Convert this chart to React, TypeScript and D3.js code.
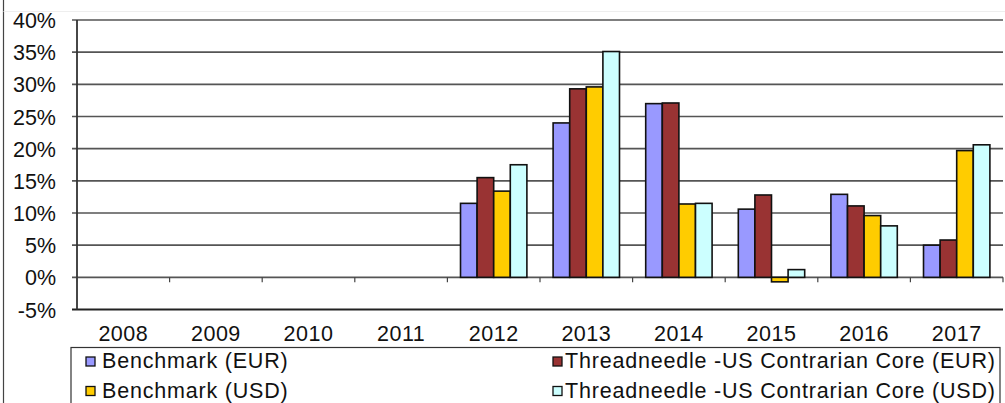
import React, { useEffect } from "react";
import * as d3 from "d3";

const years = ["2008", "2009", "2010", "2011", "2012", "2013", "2014", "2015", "2016", "2017"];
const seriesNames = [
  "Benchmark (EUR)",
  "Threadneedle -US Contrarian Core (EUR)",
  "Benchmark (USD)",
  "Threadneedle -US Contrarian Core (USD)",
];
const benchmarkEUR = [null, null, null, null, 11.5, 24.0, 27.0, 10.6, 12.9, 5.0];
const fundEUR = [null, null, null, null, 15.5, 29.3, 27.1, 12.8, 11.1, 5.8];
const benchmarkUSD = [null, null, null, null, 13.4, 29.6, 11.4, -0.7, 9.6, 19.7];
const fundUSD = [null, null, null, null, 17.5, 35.1, 11.5, 1.2, 8.0, 20.6];
const seriesValues = [benchmarkEUR, fundEUR, benchmarkUSD, fundUSD];
const colors = ["#9999FF", "#993333", "#FFCC00", "#CCFFFF"];
const yTicks = [-5, 0, 5, 10, 15, 20, 25, 30, 35, 40];

const W = 1005;
const H = 403;
const FONT = "'Liberation Sans', Arial, sans-serif";

export default function App() {
  useEffect(() => {
    document.body.style.margin = "0";
  }, []);

  const left = 77;
  const right = 1003;
  const y = d3.scaleLinear().domain([-5, 40]).range([309.5, 20]);
  const x = d3.scaleBand<string>().domain(years).range([left, right]).padding(0);
  const bw = x.bandwidth();
  const inner = d3
    .scaleBand<number>()
    .domain([0, 1, 2, 3])
    .range([0, bw])
    .paddingInner(0)
    .paddingOuter(0.79);

  const y0 = y(0);

  return (
    <svg width={W} height={H} style={{ display: "block", background: "#fff" }} fontFamily={FONT}>
      {/* outer frame */}
      <line x1={3.5} x2={3.5} y1={0} y2={H} stroke="#444" strokeWidth={1.2} />
      <line x1={3.5} x2={W} y1={11.5} y2={11.5} stroke="#eee" strokeWidth={1} />

      {/* gridlines */}
      {yTicks.map((t) => (
        <line
          key={"g" + t}
          x1={left - 5}
          x2={right}
          y1={y(t)}
          y2={y(t)}
          stroke={t === -5 ? "#222" : "#555"}
          strokeWidth={t === -5 ? 2.2 : 1.6}
        />
      ))}
      {/* y axis */}
      <line x1={left} x2={left} y1={y(40)} y2={y(-5)} stroke="#333" strokeWidth={1.8} />
      {yTicks.map((t) => (
        <text
          key={"yl" + t}
          x={56}
          y={y(t) + 1}
          textAnchor="end"
          dominantBaseline="central"
          fontSize={21.5}
          fill="#111"
        >
          {t + "%"}
        </text>
      ))}

      {/* category ticks on zero line */}
      {years.map((yr) => (
        <line
          key={"t" + yr}
          x1={x(yr) as number}
          x2={x(yr) as number}
          y1={y0}
          y2={y0 + 5}
          stroke="#444"
          strokeWidth={1.2}
        />
      ))}
      <line x1={right} x2={right} y1={y0} y2={y0 + 5} stroke="#444" strokeWidth={1.2} />

      {/* bars */}
      {seriesValues.map((vals, s) =>
        vals.map((v, i) => {
          if (v === null) return null;
          const bx = (x(years[i]) as number) + (inner(s) as number);
          const top = Math.min(y(v), y0);
          const h = Math.abs(y(v) - y0);
          return (
            <rect
              key={`b${s}-${i}`}
              x={bx}
              y={top}
              width={inner.bandwidth()}
              height={h}
              fill={colors[s]}
              stroke="#111"
              strokeWidth={1.6}
            />
          );
        })
      )}

      {/* year labels */}
      {years.map((yr) => (
        <text
          key={"xl" + yr}
          x={(x(yr) as number) + bw / 2}
          y={341}
          textAnchor="middle"
          fontSize={21.5}
          letterSpacing={0.5}
          fill="#111"
        >
          {yr}
        </text>
      ))}

      {/* legend */}
      <rect x={71} y={347.5} width={929} height={70} fill="#fff" stroke="#333" strokeWidth={1.2} />
      {seriesNames.map((name, s) => {
        const col = s % 2;
        const row = Math.floor(s / 2);
        const sx = col === 0 ? 86 : 553;
        const tx = col === 0 ? 102 : 565;
        const base = row === 0 ? 368 : 397.5;
        return (
          <g key={"lg" + s}>
            <rect
              x={sx}
              y={base - 11}
              width={9}
              height={9}
              fill={colors[s]}
              stroke="#111"
              strokeWidth={1.3}
            />
            <text x={tx} y={base} fontSize={21.5} letterSpacing={0.8} fill="#111">
              {name}
            </text>
          </g>
        );
      })}
    </svg>
  );
}
